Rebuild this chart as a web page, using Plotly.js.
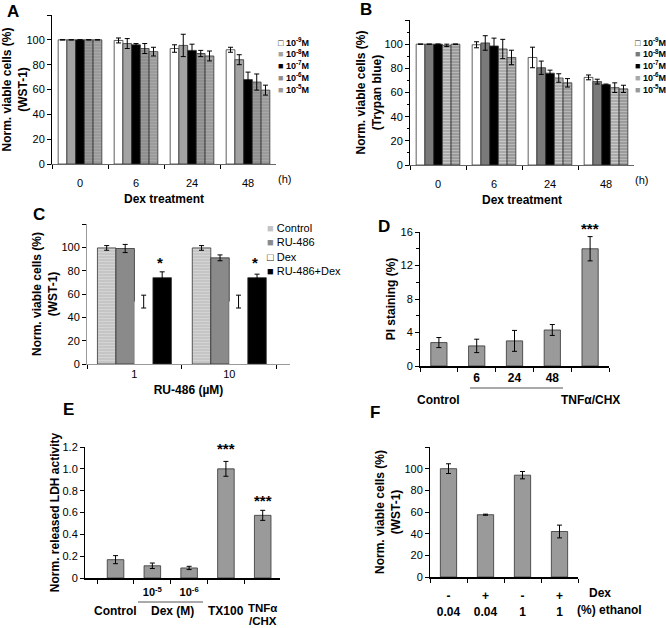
<!DOCTYPE html>
<html><head><meta charset="utf-8">
<script src="https://cdn.plot.ly/plotly-3.0.1.min.js"></script>
<style>html,body{margin:0;padding:0;background:#fff}#chart{width:666px;height:628px}</style>
</head><body><div id="chart"></div>
<script>
// ---------------- DATA ----------------
// Panels A & B: Dex treatment time (h) x concentration
const timePoints = ['0','6','24','48'];
const dexConcNames = ['10<sup>-9</sup>M','10<sup>-8</sup>M','10<sup>-7</sup>M','10<sup>-6</sup>M','10<sup>-5</sup>M'];
// A (WST-1)
const wstE9 = [100, 99.5, 93, 92],   wstE9Err = [0, 2, 3, 2];
const wstE8 = [100, 97, 95.5, 84],   wstE8Err = [0, 4, 9, 4];
const wstE7 = [100, 96, 91.5, 68],   wstE7Err = [0, 1, 5, 6];
const wstE6 = [100, 93, 89, 66],     wstE6Err = [0, 4, 2.5, 6.5];
const wstE5 = [100, 90.5, 87, 59.5], wstE5Err = [0, 3.5, 4, 4];
// B (Trypan blue)
const tbE9 = [100, 99.5, 89, 72.5],  tbE9Err = [0, 2.5, 8.5, 2];
const tbE8 = [100, 101, 80.5, 69],   tbE8Err = [0, 6, 5.5, 2];
const tbE7 = [100, 98.5, 76, 66.5],  tbE7Err = [0, 6.5, 2.5, 0.5];
const tbE6 = [99, 96, 72, 64],       tbE6Err = [1, 8, 3.5, 4];
const tbE5 = [100, 89, 68, 63],      tbE5Err = [0, 6, 3.5, 3];
// C: RU-486 (uM)
const ruDoses = ['1','10'];
const ruSeriesNames = ['Control','RU-486','Dex','RU-486+Dex'];
const ruControl = [99.5, 99.5], ruControlErr = [2, 2];
const ruOnly = [99, 91],        ruOnlyErr = [3.5, 2.5];
const ruDex = [53.5, 53.5],     ruDexErr = [5.5, 5.5];
const ruPlusDex = [74, 74],     ruPlusDexErr = [5, 3];
// D: PI staining (%)
const piCats = ['Control','6','24','48','TNFα/CHX'];
const piTickText = ['','6','24','48',''];
const piVals = [2.8, 2.4, 3.0, 4.3, 14.0];
const piErr = [0.6, 0.8, 1.25, 0.65, 1.45];
// E: released LDH
const ldhCats = ['Control','Dex 10-5','Dex 10-6','TX100','TNFα/CHX'];
const ldhTickText = ['','10<sup>-5</sup>','10<sup>-6</sup>','',''];
const ldhVals = [0.168, 0.112, 0.092, 1.0, 0.574];
const ldhErr = [0.037, 0.025, 0.015, 0.068, 0.046];
// F: ethanol control
const ethDex = ['-','+','-','+'];
const ethPct = ['0.04','0.04','1','1'];
const ethVals = [100, 57.5, 94, 42];
const ethErr = [4.5, 0.5, 3.4, 5.9];

// ---------------- STYLE / LAYOUT ----------------
const W = 666, H = 628;
const px = x => x / W, py = y => 1 - y / H;
const FONT = 'Liberation Sans, Arial, sans-serif';
const errStyle = arr => ({type:'data', array:arr, visible:true, color:'#000', thickness:1, width:2.5});
const outline = {color:'#333', width:0.8};

const aSeries = [wstE9, wstE8, wstE7, wstE6, wstE5];
const aErrs = [wstE9Err, wstE8Err, wstE7Err, wstE6Err, wstE5Err];
const aColors = ['#ffffff','#a3a3a3','#000000','#8e8e8e','#9a9a9a'];
const aStripe = ['','','','#9c9c9c','#a8a8a8'];
const bSeries = [tbE9, tbE8, tbE7, tbE6, tbE5];
const bErrs = [tbE9Err, tbE8Err, tbE7Err, tbE6Err, tbE5Err];
const bColors = ['#ffffff','#7a7a7a','#000000','#a8a8a8','#989898'];
const bStripe = ['','','','#c8c8c8','#b8b8b8'];
const cSeries = [ruControl, ruOnly, ruDex, ruPlusDex];
const cErrs = [ruControlErr, ruOnlyErr, ruDexErr, ruPlusDexErr];
const cColors = ['#c4c4c4','#8a8a8a','#ffffff','#000000'];
const cStripe = ['#d4d4d4','','',''];

function pat(stripe, color){
  return stripe ? {shape:'-', bgcolor:color, fgcolor:stripe, size:3, solidity:0.4, fillmode:'replace'} : {shape:''};
}

const traces = [];
aSeries.forEach((s,i)=>traces.push({type:'bar', x:timePoints, y:s, name:dexConcNames[i], xaxis:'x', yaxis:'y',
  marker:{color:aColors[i], line:outline, pattern:pat(aStripe[i], aColors[i])}, error_y:errStyle(aErrs[i])}));
bSeries.forEach((s,i)=>traces.push({type:'bar', x:timePoints, y:s, name:dexConcNames[i], xaxis:'x2', yaxis:'y2',
  marker:{color:bColors[i], line:outline, pattern:pat(bStripe[i], bColors[i])}, error_y:errStyle(bErrs[i])}));
cSeries.forEach((s,i)=>traces.push({type:'bar', x:ruDoses, y:s, name:ruSeriesNames[i], xaxis:'x3', yaxis:'y3',
  marker:{color:cColors[i], line: i===2 ? {color:'#ffffff', width:0} : outline, pattern:pat(cStripe[i], cColors[i])}, error_y:errStyle(cErrs[i])}));
traces.push({type:'bar', x:piCats, y:piVals, xaxis:'x4', yaxis:'y4', width:0.43,
  marker:{color:'#9a9a9a', line:outline}, error_y:errStyle(piErr)});
traces.push({type:'bar', x:ldhCats, y:ldhVals, xaxis:'x5', yaxis:'y5', width:0.45,
  marker:{color:'#9a9a9a', line:outline}, error_y:errStyle(ldhErr)});
const ethCats = ethDex.map((d,i)=>d+' '+ethPct[i]+' #'+i);
traces.push({type:'bar', x:ethCats, y:ethVals, xaxis:'x6', yaxis:'y6', width:0.44,
  marker:{color:'#9a9a9a', line:outline}, error_y:errStyle(ethErr)});

const baseAx = {showgrid:false, zeroline:false, showline:true, linecolor:'#000', linewidth:1,
  ticks:'outside', ticklen:4, tickcolor:'#000', tickfont:{size:11, color:'#000'}, fixedrange:true};
const titleFont = {size:12, weight:700, color:'#000'};
function xax(d0,d1,anchor,extra){ return Object.assign({}, baseAx, {domain:[px(d0),px(d1)], anchor:anchor, type:'category', tickson:'boundaries'}, extra); }
function yax(top,bottom,anchor,extra){ return Object.assign({}, baseAx, {domain:[py(bottom),py(top)], anchor:anchor}, extra); }
const pctTicks = {range:[0,120], tickmode:'array', tickvals:[0,20,40,60,80,100,120], ticktext:['0','20','40','60','80','100','']};

const layout = {
  width:W, height:H, margin:{l:0,r:0,t:0,b:0}, paper_bgcolor:'#fff', plot_bgcolor:'#fff',
  font:{family:FONT, color:'#000'}, showlegend:false, barmode:'group', bargap:0.22, bargroupgap:0,
  xaxis: xax(52,276,'y',{range:[-0.5,3.5], linecolor:'#666', ticklabelstandoff:9, title:{text:'Dex treatment', font:titleFont, standoff:6}}),
  yaxis: yax(15,164,'x',Object.assign({}, pctTicks, {title:{text:'Norm. viable cells (%)<br>(WST-1)', font:titleFont, standoff:2}})),
  xaxis2: xax(410,634,'y2',{range:[-0.5,3.5], linecolor:'#666', ticklabelstandoff:9, title:{text:'Dex treatment', font:titleFont, standoff:6}}),
  yaxis2: yax(20,165,'x2',Object.assign({}, pctTicks, {minor:{dtick:10, ticklen:2, ticks:'outside', tickcolor:'#000'}, title:{text:'Norm. viable cells (%)<br>(Trypan blue)', font:titleFont, standoff:0}})),
  xaxis3: xax(87,290,'y3',{range:[-0.5,1.64], linecolor:'#999', title:{text:'RU-486 (µM)', font:titleFont, standoff:6}}),
  yaxis3: yax(224,364,'x3',Object.assign({}, pctTicks, {linecolor:'#999', title:{text:'Norm. viable cells (%)<br>(WST-1)', font:titleFont, standoff:1}})),
  xaxis4: xax(420,609,'y4',{range:[-0.5,4.5], linewidth:2, tickmode:'array', tickvals:piCats, ticktext:piTickText, tickfont:{size:12, weight:700}}),
  yaxis4: yax(232,366,'x4',{range:[0,16], tickmode:'array', tickvals:[0,4,8,12,16], minor:{tickvals:[2,6,10,14], ticklen:3, ticks:'outside', tickcolor:'#000'}, title:{text:'PI staining (%)', font:titleFont, standoff:2}}),
  xaxis5: xax(85,280,'y5',{range:[-0.83,4.47], linewidth:2, ticklabelstandoff:3, tickmode:'array', tickvals:ldhCats, ticktext:ldhTickText, tickfont:{size:11, weight:700}}),
  yaxis5: yax(447,578,'x5',{range:[0,1.2], tickmode:'array', tickvals:[0,0.2,0.4,0.6,0.8,1.0,1.2], ticktext:['0','0.2','0.4','0.6','0.8','1.0','1.2'], title:{text:'Norm. released LDH activity', font:titleFont, standoff:0}}),
  xaxis6: xax(430,578,'y6',{range:[-0.5,3.5], linewidth:2, ticklabelstandoff:7, tickmode:'array', tickvals:ethCats, ticktext:ethDex.map((d,i)=>d+'<br>'+ethPct[i]), tickfont:{size:12, weight:700}}),
  yaxis6: yax(447,577,'x6',Object.assign({}, pctTicks, {title:{text:'Norm. viable cells (%)<br>(WST-1)', font:titleFont, standoff:1}})),
  shapes: [
    {type:'line', xref:'paper', yref:'paper', x0:px(470), x1:px(563), y0:py(388), y1:py(388), line:{color:'#555', width:1}},
    {type:'line', xref:'paper', yref:'paper', x0:px(138), x1:px(203), y0:py(602), y1:py(602), line:{color:'#555', width:1}}
  ],
  annotations: []
};

const A = layout.annotations;
function pann(text, x, y, opts){ A.push(Object.assign({text:text, x:px(x), y:py(y), xref:'paper', yref:'paper', xanchor:'center', yanchor:'middle', showarrow:false, font:{size:11, color:'#000'}}, opts||{})); }
// panel letters
const letterFont = {size:17, weight:700, color:'#000'};
pann('A', 13, 11, {font:letterFont});
pann('B', 366, 10, {font:letterFont});
pann('C', 39, 214, {font:letterFont});
pann('D', 384, 227, {font:letterFont});
pann('E', 68, 409, {font:letterFont});
pann('F', 375, 412, {font:letterFont});
// (h)
pann('(h)', 284, 179);
pann('(h)', 641, 180);
// legends built from series names/colours
function legendText(names, colors){
  return names.map((n,i)=>{
    const c = colors[i].toLowerCase()==='#ffffff' ? '<span style="color:#222">□</span>' : '<span style="color:'+colors[i]+'">■</span>';
    return c+' '+n;
  }).join('<br>');
}
pann(legendText(dexConcNames, aColors), 276, 34, {xanchor:'left', yanchor:'top', align:'left', font:{size:9, weight:700}});
pann(legendText(dexConcNames, bColors), 633, 34, {xanchor:'left', yanchor:'top', align:'left', font:{size:9, weight:700}});
pann(legendText(ruSeriesNames, cColors), 265, 220, {xanchor:'left', yanchor:'top', align:'left', font:{size:11}});
// significance marks
const starFont = {size:15, weight:700, color:'#000'};
ruDoses.forEach((d,i)=>A.push({text:'*', x:i+0.274, y:87, xref:'x3', yref:'y3', showarrow:false, font:starFont}));
A.push({text:'***', x:'TNFα/CHX', y:py(229), xref:'x4', yref:'paper', yanchor:'middle', showarrow:false, font:starFont});
A.push({text:'***', x:'TX100', y:1.19, xref:'x5', yref:'y5', showarrow:false, font:starFont});
A.push({text:'***', x:'TNFα/CHX', y:0.71, xref:'x5', yref:'y5', showarrow:false, font:starFont});
// group labels under x axes
const lblFont = {size:12, weight:700, color:'#000'};
function cann(text, ax, x, y, f){ A.push({text:text, x:x, y:py(y), xref:ax, yref:'paper', xanchor:'center', yanchor:'middle', showarrow:false, font:f||lblFont}); }
cann('Control', 'x4', 'Control', 400);
cann('Dex (h)', 'x4', '24', 400);
cann('TNFα/CHX', 'x4', 'TNFα/CHX', 400);
cann('Control', 'x5', 'Control', 611);
cann('Dex (M)', 'x5', 1.56, 611);
cann('TX100', 'x5', 'TX100', 611);
const smallLbl = {size:11.5, weight:700, color:'#000'};
cann('TNFα', 'x5', 'TNFα/CHX', 608, smallLbl);
cann('/CHX', 'x5', 'TNFα/CHX', 621, smallLbl);
pann('Dex', 587, 593, {xanchor:'left', font:lblFont});
pann('(%) ethanol', 575, 610, {xanchor:'left', font:lblFont});

Plotly.newPlot('chart', traces, layout, {staticPlot:true, displayModeBar:false});
</script>
</body></html>
